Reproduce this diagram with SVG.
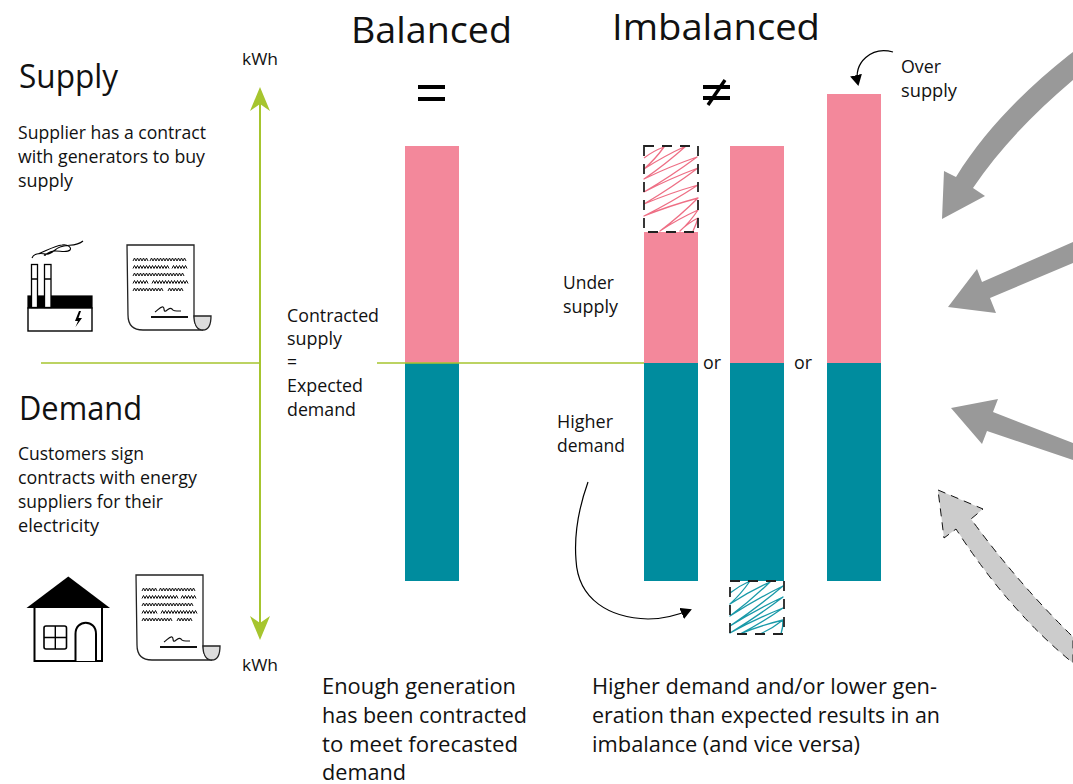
<svg xmlns="http://www.w3.org/2000/svg" xmlns:xlink="http://www.w3.org/1999/xlink" width="1073" height="784" viewBox="0 0 1073 784">
<style>
text{font-family:"Open Sans","Noto Sans","Liberation Sans",sans-serif;fill:#111}
.h{font-size:33px}.t{font-size:36px}.b{font-size:17.5px}.l{font-size:21.5px}.s{font-size:16px}
.pink{fill:#f3889b}.teal{fill:#008c9e}
.axis{stroke:#a6c52e;fill:none}
.box{fill:none;stroke:#222;stroke-width:1.8;stroke-dasharray:10 8}
.wave{fill:none;stroke:#111;stroke-width:1;stroke-linejoin:round}
.hatch{fill:none;stroke-width:1.3;stroke-linejoin:round}
.big{fill:#999}
</style>
<defs>
<marker id="blackhead" markerWidth="14" markerHeight="14" refX="9" refY="6" orient="auto" markerUnits="userSpaceOnUse"><path d="M0,0 L11,6 L0,12 Z" fill="#000"/></marker>
<path id="w" class="wave" d="m0,0 l1.5,-3 1.5,3 1.5,-3 1.5,3 1.5,-3 1.5,3 1.5,-3 1.5,3 1.5,-3 1.5,3"/>
<path id="v" class="wave" d="m0,0 l1.5,-3 1.5,3 1.5,-3 1.5,3"/>
<g id="doc">
<path d="M127,245 H194 V316 C194,324 197,330 203,330 H143 C133,330 128,325 128,315 Z" fill="#fff" stroke="#222" stroke-width="1.3"/>
<path d="M194,316 H211 C211,325 208,330 203,330 C197,330 194,324 194,316 Z" fill="#ddd" stroke="#222" stroke-width="1.3"/>
<use xlink:href="#w" x="133" y="261"/><use xlink:href="#w" x="150" y="261"/><use xlink:href="#w" x="165" y="261"/><use xlink:href="#v" x="180" y="261"/>
<use xlink:href="#w" x="133" y="268.5"/><use xlink:href="#w" x="148" y="268.5"/><use xlink:href="#v" x="163" y="268.5"/><use xlink:href="#w" x="172" y="268.5"/>
<use xlink:href="#w" x="133" y="276"/><use xlink:href="#w" x="148" y="276"/><use xlink:href="#w" x="163" y="276"/><use xlink:href="#v" x="178" y="276"/>
<use xlink:href="#w" x="133" y="283.5"/><use xlink:href="#w" x="152" y="283.5"/><use xlink:href="#w" x="167" y="283.5"/><use xlink:href="#v" x="182" y="283.5"/>
<use xlink:href="#w" x="133" y="291"/><use xlink:href="#w" x="148" y="291"/><use xlink:href="#w" x="168" y="291"/>
<path d="M155,312 C158,310 161,306 163,307 C165,308 163,312 166,311 C169,309 170,307 172,309 C173,311 175,311 181,311" fill="none" stroke="#111" stroke-width="1.2"/>
<path d="M151,317 H188" stroke="#111" stroke-width="1.8"/>
</g>
</defs>

<g id="labels">
<text class="t" x="351" y="43" textLength="161" lengthAdjust="spacingAndGlyphs">Balanced</text>
<text class="t" x="612" y="40" textLength="208" lengthAdjust="spacingAndGlyphs">Imbalanced</text>
<text class="h" x="19" y="88" textLength="99" lengthAdjust="spacingAndGlyphs">Supply</text>
<text class="h" x="19" y="420" textLength="123" lengthAdjust="spacingAndGlyphs">Demand</text>
<text class="s" x="242" y="65" textLength="36" lengthAdjust="spacingAndGlyphs">kWh</text>
<text class="s" x="242" y="671" textLength="36" lengthAdjust="spacingAndGlyphs">kWh</text>
<text class="b" x="18" y="139" textLength="188" lengthAdjust="spacingAndGlyphs">Supplier has a contract</text>
<text class="b" x="18" y="163" textLength="187" lengthAdjust="spacingAndGlyphs">with generators to buy</text>
<text class="b" x="18" y="187" textLength="55" lengthAdjust="spacingAndGlyphs">supply</text>
<text class="b" x="18" y="460" textLength="126" lengthAdjust="spacingAndGlyphs">Customers sign</text>
<text class="b" x="18" y="484" textLength="179" lengthAdjust="spacingAndGlyphs">contracts with energy</text>
<text class="b" x="18" y="508" textLength="145" lengthAdjust="spacingAndGlyphs">suppliers for their</text>
<text class="b" x="18" y="532" textLength="81" lengthAdjust="spacingAndGlyphs">electricity</text>
<text class="b" x="287" y="322" textLength="92" lengthAdjust="spacingAndGlyphs">Contracted</text>
<text class="b" x="287" y="345" textLength="55" lengthAdjust="spacingAndGlyphs">supply</text>
<text class="b" x="287" y="368">=</text>
<text class="b" x="287" y="392" textLength="76" lengthAdjust="spacingAndGlyphs">Expected</text>
<text class="b" x="287" y="416" textLength="69" lengthAdjust="spacingAndGlyphs">demand</text>
<text class="b" x="563" y="289" textLength="51" lengthAdjust="spacingAndGlyphs">Under</text>
<text class="b" x="563" y="313" textLength="55" lengthAdjust="spacingAndGlyphs">supply</text>
<text class="b" x="557" y="428" textLength="56" lengthAdjust="spacingAndGlyphs">Higher</text>
<text class="b" x="557" y="452" textLength="68" lengthAdjust="spacingAndGlyphs">demand</text>
<text class="b" x="703" y="369" textLength="18" lengthAdjust="spacingAndGlyphs">or</text>
<text class="b" x="794" y="369" textLength="18" lengthAdjust="spacingAndGlyphs">or</text>
<text class="b" x="901" y="73" textLength="40" lengthAdjust="spacingAndGlyphs">Over</text>
<text class="b" x="901" y="97" textLength="56" lengthAdjust="spacingAndGlyphs">supply</text>
<text class="l" x="322" y="694" textLength="194" lengthAdjust="spacingAndGlyphs">Enough generation</text>
<text class="l" x="322" y="723" textLength="205" lengthAdjust="spacingAndGlyphs">has been contracted</text>
<text class="l" x="322" y="752" textLength="196" lengthAdjust="spacingAndGlyphs">to meet forecasted</text>
<text class="l" x="322" y="780" textLength="84" lengthAdjust="spacingAndGlyphs">demand</text>
<text class="l" x="592" y="694" textLength="345" lengthAdjust="spacingAndGlyphs">Higher demand and/or lower gen-</text>
<text class="l" x="592" y="723" textLength="348" lengthAdjust="spacingAndGlyphs">eration than expected results in an</text>
<text class="l" x="592" y="752" textLength="268" lengthAdjust="spacingAndGlyphs">imbalance (and vice versa)</text>
</g>

<g id="signs" stroke="#000" stroke-width="4" fill="none">
<path d="M418,87 H445 M418,99 H445"/>
<path d="M703,87 H730 M703,98 H730"/>
<path d="M725,80 L708,105" stroke-width="3.4"/>
</g>

<g id="bar-balanced">
<rect class="pink" x="405" y="146" width="54" height="217"/>
<rect class="teal" x="405" y="363" width="54" height="218"/>
</g>
<g id="bar-under">
<rect class="pink" x="644" y="232" width="54" height="131"/>
<rect class="teal" x="644" y="363" width="54" height="218"/>
<path class="hatch" stroke="#ee6f85" d="M644,158 Q653,151 664,147 Q655,159.5 644,169 Q664,156 686,146 Q666,164 644,179 Q669.5,166.5 697,157 Q671.5,176 644,192 Q670,178.5 698,168 Q672,187.5 644,204 Q670,193 698,185 Q672,202 644,216 Q670,205.5 698,198 Q680,216 660,231 Q678,219 698,210 Q690,222 680,231 Q688,223 698,218 Q696,225 693,231"/>
<rect class="box" x="644" y="146" width="54" height="86"/>
</g>
<g id="bar-higher">
<rect class="pink" x="730" y="146" width="54" height="217"/>
<rect class="teal" x="730" y="363" width="54" height="218"/>
<path class="hatch" stroke="#1a9aa9" d="M730,593 Q739,586 750,581 Q741,594 730,604 Q749,591.5 770,582 Q751,600.5 730,616 Q755.5,599.5 783,586 Q757.5,607.5 730,626 Q755.5,610 783,597 Q757.5,616.5 730,633 Q755.5,619 783,608 Q762.5,622.5 740,634 Q760.5,625.5 783,620 Q772.5,628.5 760,634 M783,620 Q783,628 781,634"/>
<rect class="box" x="730" y="581" width="54" height="53"/>
</g>
<g id="bar-over">
<rect class="pink" x="827" y="94" width="54" height="269"/>
<rect class="teal" x="827" y="363" width="54" height="218"/>
</g>

<g id="factory" stroke="#000">
<rect x="28" y="296" width="64" height="12" fill="#000" stroke-width="1.2"/>
<rect x="28" y="308" width="64" height="23" fill="#fff" stroke-width="1.4"/>
<rect x="31.5" y="264.5" width="6" height="43" fill="#fff" stroke-width="1.3"/>
<rect x="44.5" y="264.5" width="6.5" height="43" fill="#fff" stroke-width="1.3"/>
<path d="M31.5,279 H37.5 M44.5,279 H51" stroke-width="1.3"/>
<path d="M79,311 L75,321 H78 L75.5,327 L82,318 H78.5 L81,311 Z" fill="#000" stroke="none"/>
<path d="M32,258 C34,253 40,253 46,254 C52,255 54,249 60,247 C68,244 76,247 83,241 M38,254 C46,251 54,246 62,245 C68,244 72,248 70,250 C66,254 56,249 50,252 C46,254 42,256 46,255" fill="none" stroke-width="1.1"/>
</g>
<g id="contract-supply"><use xlink:href="#doc"/></g>

<g id="house" stroke="#000">
<path d="M34.5,608 V661 H102 V608" fill="#fff" stroke-width="2"/>
<path d="M26.5,608 L68.3,576.5 L110,608 Z" fill="#000" stroke="none"/>
<rect x="44" y="626" width="22.5" height="23" rx="2" fill="#fff" stroke-width="1.6"/>
<path d="M55.3,626 V649 M44,637.5 H66.5" stroke-width="1.4"/>
<path d="M75.5,661 V634 C75.5,619 96,619 96,634 V661" fill="#fff" stroke-width="2"/>
</g>
<g id="contract-demand"><use xlink:href="#doc" x="9" y="330"/></g>

<g id="connectors">
<path class="axis" d="M41,363 H260" stroke-width="1.4"/>
<path class="axis" d="M377,363 H644" stroke-width="1.4"/>
<path class="axis" d="M260,100 V628" stroke-width="2"/>
<path d="M260,87 L270,111 L260,104 L250,111 Z" fill="#a6c52e"/>
<path d="M260,640 L270,616 L260,623 L250,616 Z" fill="#a6c52e"/>
<path d="M893,52 C872,46 853,62 858,84" fill="none" stroke="#000" stroke-width="1.2" marker-end="url(#blackhead)"/>
<path d="M588,482 C578,510 574,535 576,560 C578,600 610,618 648,619 C664,619 678,615 690,610" fill="none" stroke="#000" stroke-width="1.2" marker-end="url(#blackhead)"/>
<path class="big" d="M942,219 L944,171 L956,177 C985,130 1025,90 1069,55 L1073,52 V80 C1035,112 1000,148 973,188 L985,196 Z"/>
<path class="big" d="M948,307 L977,269 L982,282 L1073,242 V263 L990,298 L996,313 Z"/>
<path class="big" d="M951,408 L998,399 L993,412 L1073,443 V460 L987,431 L982,444 Z"/>
<path d="M938,490 L983,509 L971,519 Q1017,582 1073,637 V663 Q1009,611 956,529 L944,538 Z" fill="#ccc" stroke="#111" stroke-width="1" stroke-dasharray="8 6"/>
</g>
</svg>
